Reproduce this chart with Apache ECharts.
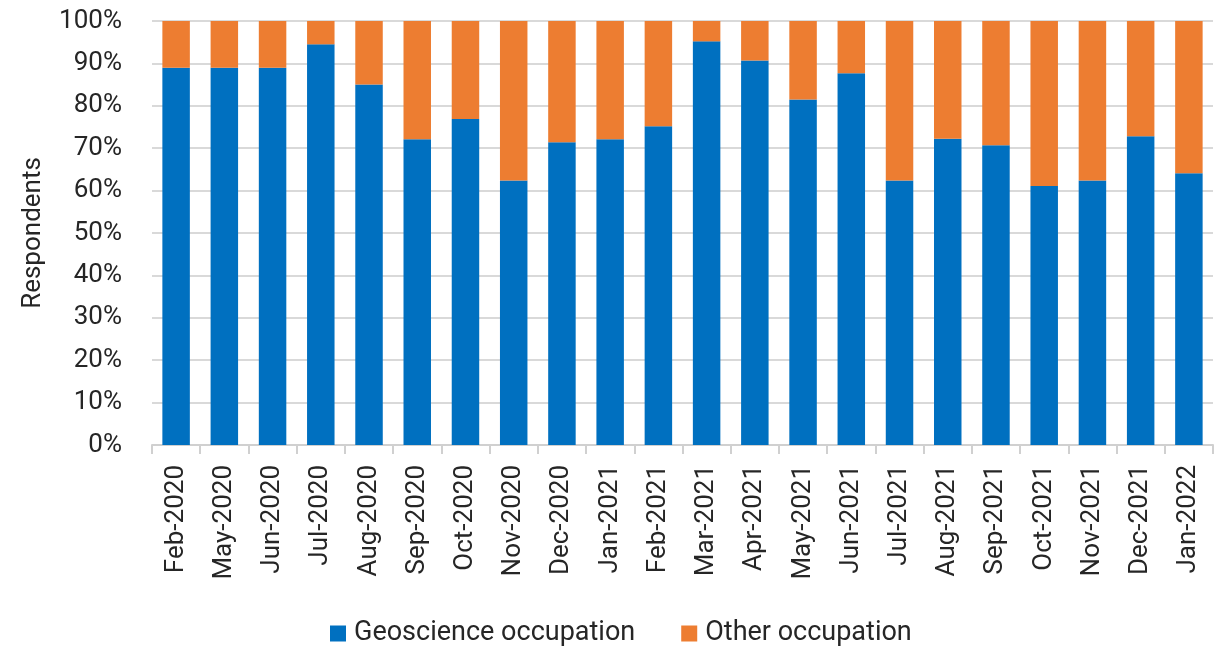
<!DOCTYPE html>
<html>
<head>
<meta charset="utf-8">
<title>Respondents by occupation</title>
<script src="https://cdn.jsdelivr.net/npm/echarts@6/dist/echarts.min.js"></script>
<style>
  html, body { margin: 0; padding: 0; background: #ffffff; }
  #chart { width: 1216px; height: 649px; }
</style>
</head>
<body>
<div id="chart"></div>
<script>
// Survey months
const months = [
  'Feb-2020', 'May-2020', 'Jun-2020', 'Jul-2020', 'Aug-2020', 'Sep-2020',
  'Oct-2020', 'Nov-2020', 'Dec-2020', 'Jan-2021', 'Feb-2021', 'Mar-2021',
  'Apr-2021', 'May-2021', 'Jun-2021', 'Jul-2021', 'Aug-2021', 'Sep-2021',
  'Oct-2021', 'Nov-2021', 'Dec-2021', 'Jan-2022'
];

// Share of respondents (%) in each occupation group
const geoscience = [
  89.0, 89.0, 89.0, 94.5, 85.0, 72.1, 76.9, 62.4, 71.4, 72.1, 75.2,
  95.2, 90.7, 81.5, 87.7, 62.4, 72.2, 70.7, 61.1, 62.4, 72.8, 64.1
];
const other = [
  11.0, 11.0, 11.0, 5.5, 15.0, 27.9, 23.1, 37.6, 28.6, 27.9, 24.8,
  4.8, 9.3, 18.5, 12.3, 37.6, 27.8, 29.3, 38.9, 37.6, 27.2, 35.9
];

const seriesNames = ['Geoscience occupation', 'Other occupation'];
const colors = ['#0070C0', '#ED7D31'];

const textColor = '#262626';
const fontFamily = 'Roboto, "Noto Sans", sans-serif';

const chart = echarts.init(document.getElementById('chart'), null, { renderer: 'canvas' });

chart.setOption({
  animation: false,
  color: colors,
  textStyle: { fontFamily: fontFamily },
  grid: { left: 152, right: 3, top: 21, bottom: 204, containLabel: false },
  legend: {
    data: seriesNames,
    top: 615,
    left: 325,
    itemWidth: 16,
    itemHeight: 16,
    itemGap: 46,
    icon: 'rect',
    textStyle: { fontSize: 27, color: textColor, fontFamily: fontFamily, padding: [0, 0, 0, 3] }
  },
  xAxis: {
    type: 'category',
    data: months,
    axisLine: { lineStyle: { color: '#d0d0d0', width: 2 } },
    axisTick: { show: true, length: 9, lineStyle: { color: '#d0d0d0', width: 2 } },
    axisLabel: {
      rotate: 90,
      fontSize: 26,
      color: textColor,
      margin: 20,
      fontFamily: fontFamily
    }
  },
  yAxis: {
    type: 'value',
    min: 0,
    max: 100,
    interval: 10,
    name: 'Respondents',
    nameLocation: 'middle',
    nameGap: 106,
    nameTextStyle: { fontSize: 26, color: textColor, fontFamily: fontFamily },
    axisLine: { show: false },
    axisTick: { show: false },
    axisLabel: {
      formatter: '{value}%',
      fontSize: 26,
      color: textColor,
      margin: 30,
      fontFamily: fontFamily
    },
    splitLine: { lineStyle: { color: '#d9d9d9', width: 2 } }
  },
  series: [
    {
      name: seriesNames[0],
      type: 'bar',
      stack: 'total',
      data: geoscience,
      barCategoryGap: '43%',
      itemStyle: { color: colors[0] }
    },
    {
      name: seriesNames[1],
      type: 'bar',
      stack: 'total',
      data: other,
      barCategoryGap: '43%',
      itemStyle: { color: colors[1] }
    }
  ]
});
</script>
</body>
</html>
